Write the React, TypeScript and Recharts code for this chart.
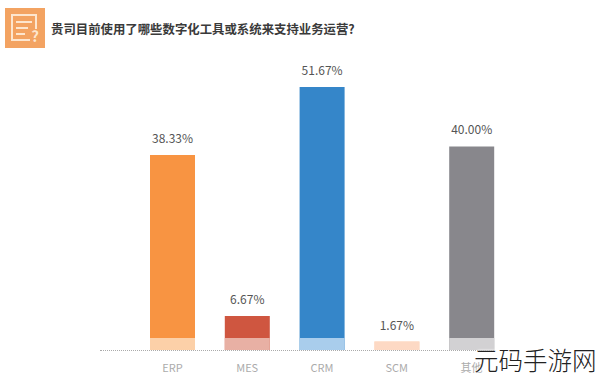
import { BarChart, Bar, XAxis, YAxis, Cell, LabelList } from 'recharts';

const categories = ['ERP', 'MES', 'CRM', 'SCM', '其他'];
const shares = [38.33, 6.67, 51.67, 1.67, 40.0];
// lighter band along the foot of each bar
const footBand = [2.36, 2.36, 2.36, 1.67, 2.36];
const barColors = ['#f89442', '#cf5640', '#3586c9', '#fdd9c4', '#88878c'];
const footColors = ['#fcd0a8', '#e8b0a4', '#a9cdec', '#fdd9c4', '#d2d1d3'];

const chartData = categories.map((name, i) => ({
  name,
  share: shares[i],
  foot: footBand[i],
}));

const FONT = '"Noto Sans CJK SC", "Noto Sans", sans-serif';

function fmtPct(v: unknown): string {
  return `${Number(v).toFixed(2)}%`;
}

function TitleIcon() {
  return (
    <svg width={40} height={40} viewBox="0 0 40 40" style={{ position: 'absolute', left: 5, top: 8 }}>
      <rect width={40} height={40} fill="#f3a362" />
      <path d="M25 32H7V7h24v14" fill="none" stroke="#fde6cf" strokeWidth={2} />
      <path d="M11 14h16M11 20h12M11 26h9" stroke="#fde6cf" strokeWidth={2} />
      <text x={30} y={34} fontSize={15} fontWeight={700} fill="#fde6cf" textAnchor="middle" fontFamily={FONT}>
        ?
      </text>
    </svg>
  );
}

export default function App() {
  return (
    <div style={{ position: 'absolute', left: 0, top: 0, width: 600, height: 378, background: '#fff', overflow: 'hidden', fontFamily: FONT }}>
      <TitleIcon />
      <div style={{ position: 'absolute', left: 51, top: 20, fontSize: 12.4, lineHeight: '18px', fontWeight: 700, color: '#3a3a3a', whiteSpace: 'nowrap' }}>
        贵司目前使用了哪些数字化工具或系统来支持业务运营?
      </div>
      <BarChart
        width={600}
        height={378}
        data={chartData}
        barSize={45}
        barGap={-45}
        margin={{ top: 60, right: 91, bottom: 0, left: 135 }}
      >
        <XAxis
          dataKey="name"
          axisLine={false}
          tickLine={false}
          height={28}
          interval={0}
          tickMargin={8}
          tick={{ fill: '#ababab', fontSize: 11, fontFamily: FONT }}
        />
        <YAxis hide domain={[0, 57]} />
        <Bar dataKey="share" isAnimationActive={false}>
          {chartData.map((d, i) => (
            <Cell key={d.name} fill={barColors[i]} />
          ))}
          <LabelList
            dataKey="share"
            position="top"
            offset={12}
            formatter={fmtPct}
            style={{ fill: '#555', fontSize: 12, fontFamily: FONT }}
          />
        </Bar>
        <Bar dataKey="foot" isAnimationActive={false}>
          {chartData.map((d, i) => (
            <Cell key={d.name} fill={footColors[i]} />
          ))}
        </Bar>
      </BarChart>
      {/* dotted baseline stops at the last bar, shorter than the plot */}
      <div style={{ position: 'absolute', left: 100, top: 350, width: 394, borderTop: '1px dotted #aaa' }} />
      <div
        style={{
          position: 'absolute',
          left: 474,
          top: 342,
          fontSize: 24.5,
          lineHeight: '36px',
          fontWeight: 300,
          color: '#222',
          whiteSpace: 'nowrap',
          textShadow: '0 0 2px #fff, 0 0 2px #fff, 0 0 3px #fff',
        }}
      >
        元码手游网
      </div>
    </div>
  );
}
